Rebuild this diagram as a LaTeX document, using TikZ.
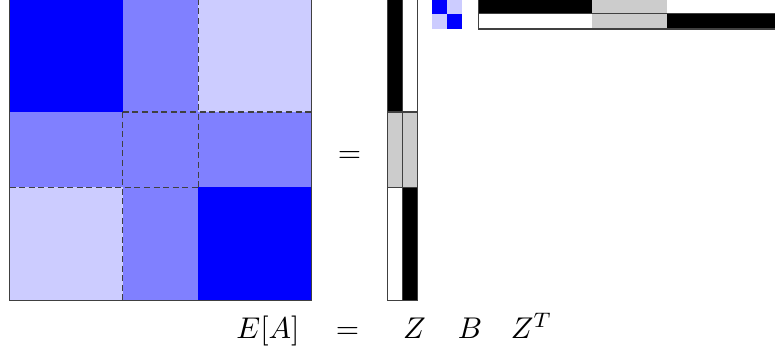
\documentclass[tikz,border=0pt]{standalone}
\begin{document}
\begin{tikzpicture}[x=0.33333pt,y=-0.33333pt,
  cellline/.style={draw=black!75,line width=0.4pt},
  dashline/.style={draw=black!75,line width=0.45pt,dash pattern=on 2pt off 1.2pt},
  eqtext/.style={anchor=base,inner sep=0pt}]
\useasboundingbox (0,0) rectangle (775,356);
\clip (0,0) rectangle (775,356);
% big matrix E[A]
\fill[blue]        (9.5,-1.25) rectangle (122.75,112);
\fill[blue!50]     (122.75,-1.25) rectangle (198.25,112);
\fill[blue!20]     (198.25,-1.25) rectangle (311.5,112);
\fill[blue!50]     (9.5,112) rectangle (311.5,187.5);
\fill[blue!20]     (9.5,187.5) rectangle (122.75,300.75);
\fill[blue!50]     (122.75,187.5) rectangle (198.25,300.75);
\fill[blue]        (198.25,187.5) rectangle (311.5,300.75);
\draw[dashline] (198.25,-1.25) -- (198.25,187.5);
\draw[dashline] (122.75,112) -- (311.5,112);
\draw[dashline] (122.75,112) -- (122.75,300.75);
\draw[dashline] (9.5,187.5) -- (198.25,187.5);
\draw[cellline] (9.5,-1.25) rectangle (311.5,300.75);
% Z
\filldraw[cellline,fill=black]   (387.3,-1.25) rectangle (402.4,112);
\filldraw[cellline,fill=white]   (402.4,-1.25) rectangle (417.5,112);
\filldraw[cellline,fill=black!20] (387.3,112) rectangle (402.4,187.5);
\filldraw[cellline,fill=black!20] (402.4,112) rectangle (417.5,187.5);
\filldraw[cellline,fill=white]   (387.3,187.5) rectangle (402.4,300.75);
\filldraw[cellline,fill=black]   (402.4,187.5) rectangle (417.5,300.75);
% B
\fill[blue]    (432.1,-1.25) rectangle (447.2,13.85);
\fill[blue!20] (447.2,-1.25) rectangle (462.3,13.85);
\fill[blue!20] (432.1,13.85) rectangle (447.2,28.95);
\fill[blue]    (447.2,13.85) rectangle (462.3,28.95);
% Z^T
\fill[black]    (478.3,-1.25) rectangle (591.55,13.85);
\fill[black!20] (591.55,-1.25) rectangle (667.05,13.85);
\fill[white]    (667.05,-1.25) rectangle (780.3,13.85);
\fill[white]    (478.3,13.85) rectangle (591.55,28.95);
\fill[black!20] (591.55,13.85) rectangle (667.05,28.95);
\fill[black]    (667.05,13.85) rectangle (780.3,28.95);
\draw[cellline] (478.3,-1.25) rectangle (780.3,13.85);
\draw[cellline] (478.3,13.85) rectangle (780.3,28.95);
% texts
\node[eqtext] (eqmid) at (349.5,162.5) {$=$};
\node[eqtext] (ea) at (268,338.5) {$E[A]$};
\node[eqtext] (eqbot) at (347.5,338.5) {$=$};
\node[eqtext] (z) at (414.5,338.5) {$Z$};
\node[eqtext] (b) at (470,338.5) {$B$};
\node[eqtext] (zt) at (531.5,338.5) {$Z^T$};
\end{tikzpicture}
\end{document}
